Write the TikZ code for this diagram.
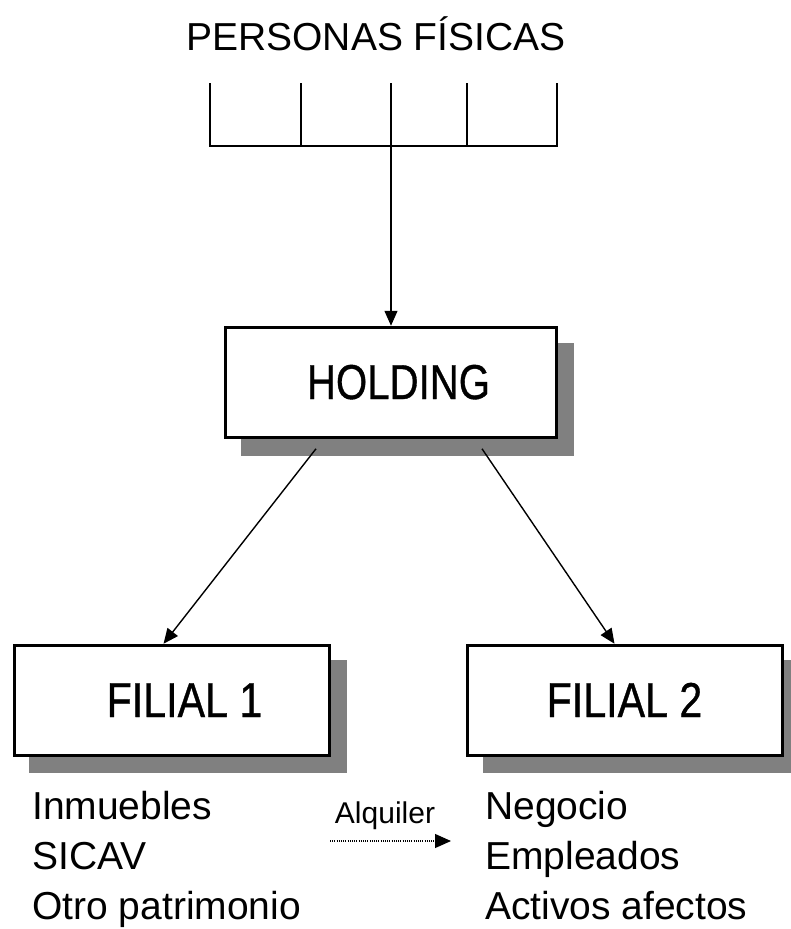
\documentclass[tikz,border=0pt]{standalone}
\usepackage{fontspec}
\setmainfont{Liberation Sans}
\newfontfamily\boxfont[FakeBold=0.8]{Liberation Sans}
\usepackage{graphicx}
\usetikzlibrary{arrows.meta,calc}
\tikzset{
  boxnode/.style={draw=black,line width=3pt,fill=white,rectangle,inner sep=0pt,minimum width=315pt,minimum height=110.5pt},
  shadowfill/.style={fill=black!50},
  conn/.style={line width=1.4pt,-{Triangle[length=15pt,width=13pt]}},
  comb/.style={line width=1.7pt},
  bigtxt/.style={inner sep=0pt,anchor=base,font=\boxfont\fontsize{49pt}{52pt}\selectfont},
  listtxt/.style={inner sep=0pt,anchor=base west,font=\fontsize{39pt}{42pt}\selectfont},
}
\begin{document}
\begin{tikzpicture}[x=1pt,y=-1pt]
\useasboundingbox (0,0) rectangle (791,929);
\clip (0,0) rectangle (791,929);
% title
\node[inner sep=0pt,anchor=base,font=\fontsize{39pt}{42pt}\selectfont] (p) at (376,50) {PERSONAS FÍSICAS};
% comb
\coordinate (c1) at (210,83);
\coordinate (c2) at (301,83);
\coordinate (c3) at (391,83);
\coordinate (c4) at (467,83);
\coordinate (c5) at (557,83);
\coordinate (b1) at (210,146);
\coordinate (b2) at (301,146);
\coordinate (b3) at (391,146);
\coordinate (b4) at (467,146);
\coordinate (b5) at (557,146);
\draw[comb] (c1) -- (b1) -- (b5) -- (c5);
\draw[comb] (c2) -- (b2);
\draw[comb] (c3) -- (b3);
\draw[comb] (c4) -- (b4);
% shadows
\fill[shadowfill] (241,343) rectangle (574,456);
\fill[shadowfill] (29,660) rectangle (347,773);
\fill[shadowfill] (483,660) rectangle (799,773);
% boxes
\node[boxnode,minimum width=331pt] (h) at (391,382.5) {};
\node[boxnode] (f1) at (172,700.5) {};
\node[boxnode] (f2) at (625,700.5) {};
% connectors
\draw[conn] (b3) -- (h.north);
\coordinate (hl) at ([shift={(-75,9.5)}]h.south);
\coordinate (hr) at ([shift={(91,9.5)}]h.south);
\draw[conn] (hl) -- ([xshift=150.5pt]f1.north west);
\draw[conn] (hr) -- ([xshift=148.5pt]f2.north west);
% box texts
\node[bigtxt] (ht) at (398.5,399) {\scalebox{0.82}[1]{HOLDING}};
\node[bigtxt] (f1t) at (184.5,717) {\scalebox{0.84}[1]{FILIAL 1}};
\node[bigtxt] (f2t) at (624.5,717) {\scalebox{0.84}[1]{FILIAL 2}};
% lists
\node[listtxt] (l1) at (32,819) {Inmuebles};
\node[listtxt] (l2) at (32,869) {SICAV};
\node[listtxt] (l3) at (32,919) {Otro patrimonio};
\node[listtxt] (r1) at (485,819) {Negocio};
\node[listtxt] (r2) at (485,869) {Empleados};
\node[listtxt] (r3) at (485,919) {Activos afectos};
% alquiler
\node[inner sep=0pt,anchor=base,font=\fontsize{30pt}{32pt}\selectfont] (al) at (385,823) {Alquiler};
\coordinate (as) at (330,841);
\coordinate (ae) at (451,841);
\draw[line width=1.2pt,dash pattern=on 1pt off 1.2pt,-{Triangle[length=16pt,width=14pt,sep=0pt]}] (as) -- (ae);
\end{tikzpicture}
\end{document}
